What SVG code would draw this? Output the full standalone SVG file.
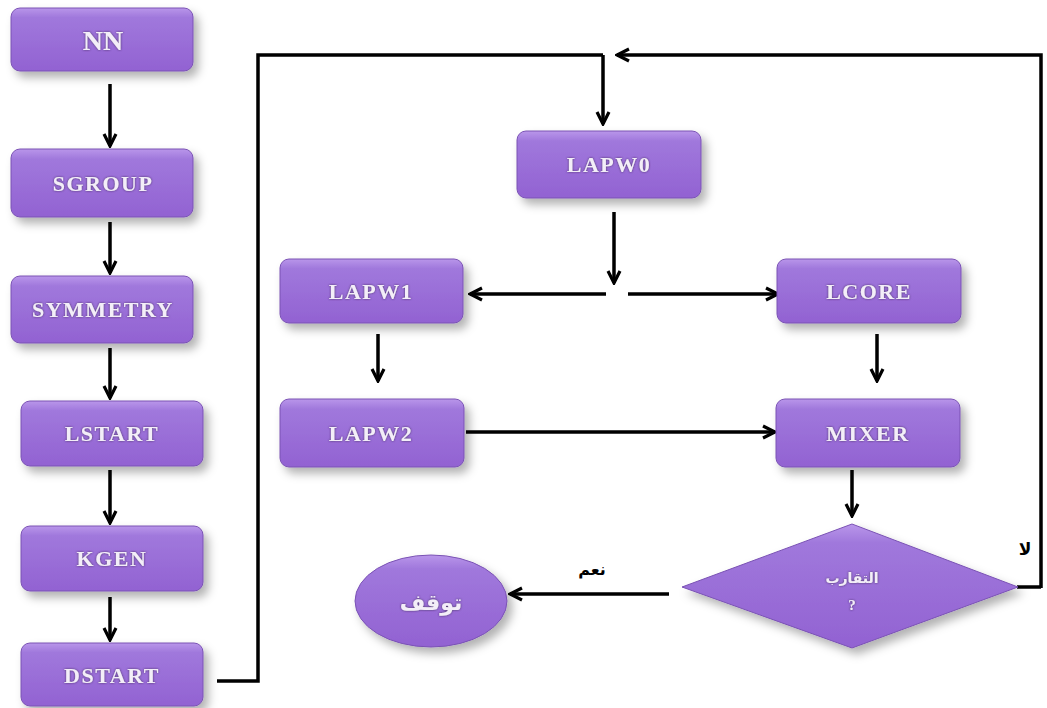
<svg xmlns="http://www.w3.org/2000/svg" width="1047" height="708" viewBox="0 0 1047 708">
<defs>
<linearGradient id="g" x1="0" y1="0" x2="0" y2="1">
<stop offset="0" stop-color="#b996ea"/>
<stop offset="0.15" stop-color="#a078dc"/>
<stop offset="1" stop-color="#9262d2"/>
</linearGradient>
<filter id="sh" x="-20%" y="-20%" width="150%" height="160%">
<feDropShadow dx="5" dy="6" stdDeviation="5" flood-color="#000" flood-opacity="0.3"/>
</filter>
<filter id="ts" x="-10%" y="-30%" width="120%" height="160%">
<feDropShadow dx="0" dy="0" stdDeviation="1" flood-color="#3a2a50" flood-opacity="0.9"/>
</filter>
<marker id="ah" viewBox="0 0 12 12" refX="10.5" refY="6" markerWidth="16" markerHeight="16" markerUnits="userSpaceOnUse" orient="auto">
<path d="M1.5,1.5 L10.5,6 L1.5,10.5" fill="none" stroke="#000" stroke-width="2.4" stroke-linejoin="miter"/>
</marker>
</defs>
<style>
.box{fill:url(#g);stroke:#7a52b4;stroke-width:1;filter:url(#sh)}
.t{font-family:"Liberation Serif",serif;font-weight:bold;font-size:22px;fill:#f3eef8;text-anchor:middle;filter:url(#ts);letter-spacing:1.5px}
.nn{font-size:28px;letter-spacing:0px}
.arw{font-family:"DejaVu Sans","Noto Sans",sans-serif;letter-spacing:0px}
.ar{font-family:"DejaVu Sans","Noto Sans",sans-serif;font-weight:bold;text-anchor:middle}
.c{fill:none;stroke:#000;stroke-width:3.5}
.ca{fill:none;stroke:#000;stroke-width:3.5;marker-end:url(#ah)}
</style>
<rect width="1047" height="708" fill="#fff"/>
<g id="connectors">
<line class="ca" x1="110" y1="84" x2="110" y2="146"/>
<line class="ca" x1="110" y1="222" x2="110" y2="273"/>
<line class="ca" x1="110" y1="348" x2="110" y2="398"/>
<line class="ca" x1="110" y1="470" x2="110" y2="523"/>
<line class="ca" x1="110" y1="597" x2="110" y2="640"/>
<polyline class="c" points="217,681 258,681 258,55 603,55"/>
<line class="ca" x1="603" y1="55" x2="603" y2="124"/>
<polyline class="ca" points="1041,588 1041,55 617,55"/>
<line class="c" x1="1017" y1="587" x2="1041" y2="587"/>
<line class="ca" x1="614" y1="212" x2="614" y2="283"/>
<line class="ca" x1="606" y1="294" x2="470" y2="294"/>
<line class="ca" x1="628" y1="294" x2="778" y2="294"/>
<line class="ca" x1="378" y1="334" x2="378" y2="381"/>
<line class="ca" x1="877" y1="334" x2="877" y2="381"/>
<line class="ca" x1="466" y1="432" x2="775" y2="432"/>
<line class="ca" x1="852" y1="470" x2="852" y2="516"/>
<line class="ca" x1="669" y1="594" x2="510" y2="594"/>
<text class="ar" x="592" y="575" font-size="16">نعم</text>
<text class="ar" x="1025" y="555" font-size="17">لا</text>
</g>
<g id="nn"><rect class="box" x="11" y="8" width="182" height="63" rx="9"/><text class="t nn" x="103" y="50">NN</text></g>
<g id="sgroup"><rect class="box" x="11" y="149" width="182" height="68" rx="9"/><text class="t" x="103" y="191">SGROUP</text></g>
<g id="symmetry"><rect class="box" x="11" y="276" width="182" height="67" rx="9"/><text class="t" x="103" y="317">SYMMETRY</text></g>
<g id="lstart"><rect class="box" x="21" y="401" width="182" height="65" rx="9"/><text class="t" x="112" y="441">LSTART</text></g>
<g id="kgen"><rect class="box" x="21" y="526" width="182" height="65" rx="9"/><text class="t" x="112" y="566">KGEN</text></g>
<g id="dstart"><rect class="box" x="21" y="643" width="182" height="63" rx="9"/><text class="t" x="112" y="683">DSTART</text></g>
<g id="lapw0"><rect class="box" x="517" y="131" width="184" height="67" rx="9"/><text class="t" x="609" y="172">LAPW0</text></g>
<g id="lapw1"><rect class="box" x="280" y="259" width="183" height="64" rx="9"/><text class="t" x="371" y="299">LAPW1</text></g>
<g id="lcore"><rect class="box" x="777" y="259" width="184" height="64" rx="9"/><text class="t" x="869" y="299">LCORE</text></g>
<g id="lapw2"><rect class="box" x="280" y="399" width="184" height="68" rx="9"/><text class="t" x="371" y="441">LAPW2</text></g>
<g id="mixer"><rect class="box" x="776" y="399" width="184" height="68" rx="9"/><text class="t" x="868" y="441">MIXER</text></g>
<g id="decision"><polygon class="box" points="852,524 1018,587 852,648 682,587"/><text class="t arw" x="852" y="583" style="font-size:14px">التقارب</text><text class="t" x="852" y="610" style="font-size:15px;letter-spacing:0px">?</text></g>
<g id="stop"><ellipse class="box" cx="431" cy="601" rx="76" ry="46"/><text class="t arw" x="431" y="610" style="font-size:22px">توقف</text></g>
</svg>
